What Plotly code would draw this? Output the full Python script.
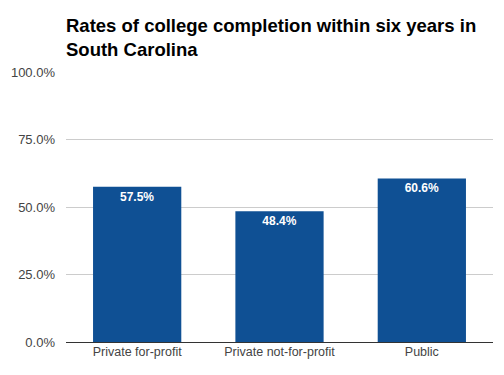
import plotly.graph_objects as go

categories = ["Private for-profit", "Private not-for-profit", "Public"]
values = [57.5, 48.4, 60.6]
tick_vals = [0, 25, 50, 75, 100]
tick_text = ["0.0%", "25.0%", "50.0%", "75.0%", "100.0%"]
labels = [f"{v:.1f}%" for v in values]

fig = go.Figure(go.Bar(
    x=categories, y=values, text=labels,
    textposition="inside", insidetextanchor="end",
    textfont=dict(family="Liberation Sans", size=12, color="white", weight="bold"),
    marker=dict(color="#0f5094", line=dict(width=0)),
    cliponaxis=False,
))
fig.update_layout(
    width=504, height=375,
    margin=dict(l=66, r=11, t=72, b=33),
    paper_bgcolor="white", plot_bgcolor="white",
    bargap=0.38,
    showlegend=False,
    title=dict(
        text="<b>Rates of college completion within six years in<br>South Carolina</b>",
        x=0, xref="paper", xanchor="left",
        y=1, yref="container", yanchor="top", pad=dict(t=32),
        font=dict(family="Liberation Sans", size=18.5, color="black"),
    ),
    font=dict(family="Liberation Sans", size=12, color="#444"),
)
fig.update_yaxes(
    range=[0, 100], tickvals=tick_vals, ticktext=tick_text,
    showgrid=True, gridcolor="#cccccc", gridwidth=1,
    zeroline=True, zerolinecolor="#333333", zerolinewidth=1,
    ticks="", ticklabelstandoff=10, showline=False,
    tickfont=dict(size=13),
)
fig.update_xaxes(showline=False, ticks="", showgrid=False, tickfont=dict(size=12.5))
fig.write_html("out.html", config={"displayModeBar": False},
               post_script="document.body.style.margin='0';document.body.style.overflow='hidden';")
